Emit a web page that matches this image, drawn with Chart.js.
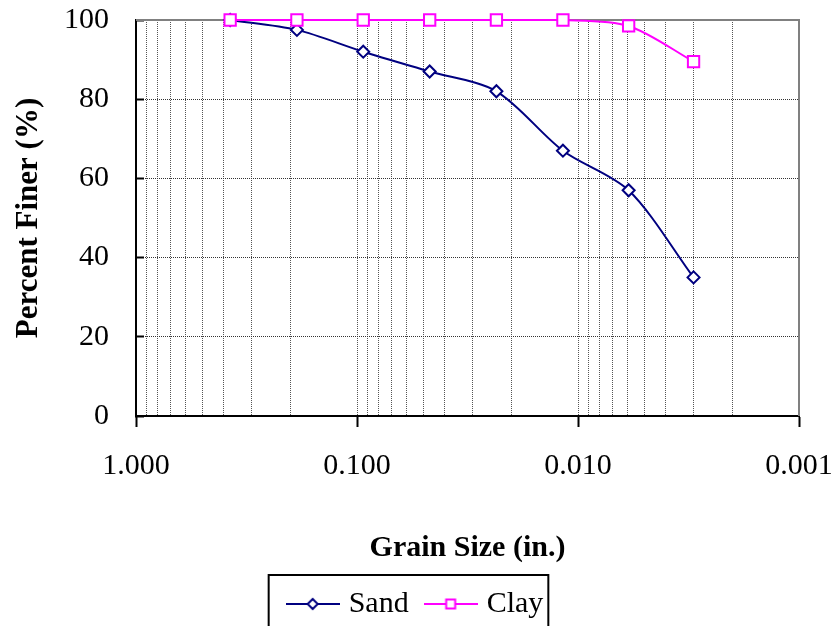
<!DOCTYPE html>
<html>
<head>
<meta charset="utf-8">
<script src="https://cdn.jsdelivr.net/npm/chart.js@4/dist/chart.umd.min.js"></script>
<style>
  html, body { margin: 0; padding: 0; background: #fff; }
</style>
</head>
<body>
<canvas id="gradation" width="835" height="626"></canvas>
<script>
// sieve openings (in.) and percent passing
const sieveSizes = [0.375, 0.187, 0.0937, 0.0469, 0.0234, 0.0117, 0.0059, 0.0030];
const sandFiner = [100, 97.5, 92, 87, 82, 67, 57, 35];
const clayFiner = [100, 100, 100, 100, 100, 100, 98.5, 89.5];

const decadeTicks = [1, 0.1, 0.01, 0.001];
const percentTicks = [0, 20, 40, 60, 80, 100];

const SAND_COLOR = '#000080';
const CLAY_COLOR = '#ff00ff';
const serif = "'Liberation Serif', 'Times New Roman', serif";

Chart.defaults.font.family = serif;
Chart.defaults.font.size = 30;
Chart.defaults.color = '#000';

function isDecade(v) {
    return decadeTicks.some(d => Math.abs(d - v) < d * 1e-6);
}

// little line+marker picture used as the legend symbol
function legendSymbol(color, marker) {
    const c = document.createElement('canvas');
    c.width = 54;
    c.height = 16;
    const g = c.getContext('2d');
    g.strokeStyle = color;
    g.lineWidth = 2;
    g.beginPath();
    g.moveTo(0, 8);
    g.lineTo(54, 8);
    g.stroke();
    g.fillStyle = '#fff';
    g.beginPath();
    if (marker == 'diamond') {
        g.moveTo(27 - 5, 8);
        g.lineTo(27, 3);
        g.lineTo(27 + 5, 8);
        g.lineTo(27, 13);
        g.closePath();
    } else {
        g.rect(22.5, 3.5, 9, 9);
    }
    g.fill();
    g.stroke();
    return c;
}
const symbols = [legendSymbol(SAND_COLOR, 'diamond'), legendSymbol(CLAY_COLOR, 'square')];

function points(values) {
    return sieveSizes.map((size, i) => ({ x: size, y: values[i] }));
}

// gray top/right frame and the box round the legend
const framePlugin = {
    id: 'plotFrame',
    beforeDatasetsDraw(chart) {
        const { ctx, chartArea: a } = chart;
        ctx.save();
        ctx.strokeStyle = '#808080';
        ctx.lineWidth = 2;
        ctx.beginPath();
        ctx.moveTo(a.left, a.top);
        ctx.lineTo(a.right, a.top);
        ctx.lineTo(a.right, a.bottom);
        ctx.stroke();
        ctx.restore();
    },
    afterDraw(chart) {
        const boxes = chart.legend.legendHitBoxes;
        if (!boxes || !boxes.length) return;
        const first = boxes[0];
        const last = boxes[boxes.length - 1];
        const mid = first.top + first.height / 2;
        const ctx = chart.ctx;
        ctx.save();
        ctx.strokeStyle = '#000';
        ctx.lineWidth = 2;
        const left = first.left - 23;
        const right = last.left + last.width + 5;
        ctx.strokeRect(left, mid - 29, right - left, 80);
        ctx.restore();
    }
};

const ctx = document.getElementById('gradation').getContext('2d');
const config = {
    type: 'line',
    data: {
        datasets: [{
            label: 'Sand',
            data: points(sandFiner),
            borderColor: SAND_COLOR,
            borderWidth: 2,
            pointStyle: 'rectRot',
            pointRadius: 6,
            pointBorderWidth: 2,
            pointBackgroundColor: '#fff',
            pointBorderColor: SAND_COLOR,
            tension: 0.3,
            clip: false,
            order: 1
        }, {
            label: 'Clay',
            data: points(clayFiner),
            borderColor: CLAY_COLOR,
            borderWidth: 2,
            pointStyle: 'rect',
            pointRadius: 8,
            pointBorderWidth: 2,
            pointBackgroundColor: '#fff',
            pointBorderColor: CLAY_COLOR,
            tension: 0.3,
            clip: false,
            order: 0
        }]
    },
    options: {
        responsive: false,
        animation: false,
        devicePixelRatio: 1,
        layout: { padding: { top: 0, right: 0, left: 0, bottom: -3 } },
        plugins: {
            tooltip: { enabled: false },
            legend: {
                position: 'bottom',
                labels: {
                    usePointStyle: true,
                    pointStyleWidth: 42,
                    padding: 21,
                    font: { size: 30 },
                    generateLabels: (chart) => {
                        const items = Chart.defaults.plugins.legend.labels.generateLabels(chart);
                        items.sort((a, b) => a.datasetIndex - b.datasetIndex);
                        items.forEach(item => { item.pointStyle = symbols[item.datasetIndex]; });
                        return items;
                    }
                }
            }
        },
        scales: {
            x: {
                type: 'logarithmic',
                reverse: true,
                min: 0.001,
                max: 1,
                afterBuildTicks: (scale) => {
                    // 1, then 9 gridlines per decade down to 0.001
                    let ticks = [{ value: 1, major: true }];
                    decadeTicks.slice(1).forEach(d => {
                        for (let m = 9; m >= 1; m--)
                            ticks.push({ value: m * d, major: m == 1 });
                    });
                    scale.ticks = ticks;
                },
                afterFit: (scale) => {
                    scale.height = 152;
                    scale.paddingLeft = 0;
                    scale.paddingRight = 36;
                },
                ticks: {
                    autoSkip: false,
                    maxRotation: 0,
                    padding: 21,
                    font: { size: 30 },
                    callback: function(value) {
                        return isDecade(value) ? value.toFixed(3) : '';
                    }
                },
                grid: {
                    color: '#555',
                    lineWidth: 1,
                    tickLength: 11,
                    tickWidth: 2,
                    tickColor: (c) => (c.tick && c.tick.major) ? '#000' : 'rgba(0,0,0,0)'
                },
                border: { color: '#000', width: 2, dash: [1, 1] },
                title: {
                    display: true,
                    text: 'Grain Size (in.)',
                    font: { size: 30, weight: 'bold' },
                    padding: { top: 0, bottom: 2 }
                }
            },
            y: {
                min: 0,
                max: 100,
                afterBuildTicks: (scale) => {
                    scale.ticks = percentTicks.map(v => ({ value: v }));
                },
                afterFit: (scale) => {
                    scale.width = 136;
                    scale.paddingTop = 20;
                    scale.paddingBottom = 0;
                },
                ticks: {
                    padding: 35,
                    font: { size: 30 }
                },
                grid: {
                    color: '#333',
                    lineWidth: 1,
                    tickLength: -8,
                    tickWidth: 2,
                    tickColor: '#000'
                },
                border: { color: '#000', width: 2, dash: [1, 1] },
                title: {
                    display: true,
                    text: 'Percent Finer (%)',
                    font: { size: 31, weight: 'bold' },
                    padding: { top: 10, bottom: 0 }
                }
            }
        }
    },
    plugins: [framePlugin]
};

const gradationChart = new Chart(ctx, config);
</script>
</body>
</html>
